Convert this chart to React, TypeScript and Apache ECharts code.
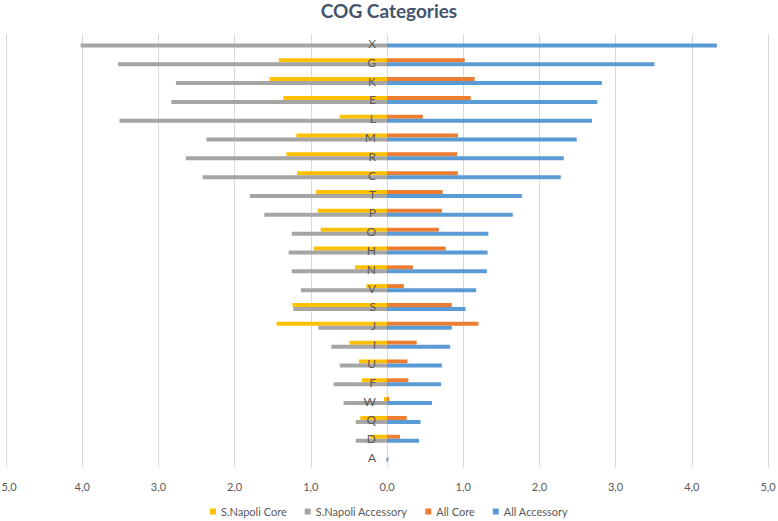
import React, { useEffect, useRef } from "react";
import * as echarts from "echarts";

const categories = ["X", "G", "K", "E", "L", "M", "R", "C", "T", "P", "O", "H", "N", "V", "S", "J", "I", "U", "F", "W", "Q", "D", "A"];
// S.Napoli values (drawn on the left side)
const napoliCore = [0, 1.42, 1.54, 1.36, 0.62, 1.19, 1.32, 1.18, 0.93, 0.91, 0.87, 0.96, 0.42, 0.27, 1.24, 1.45, 0.49, 0.37, 0.33, 0.04, 0.35, 0.22, 0];
const napoliAccessory = [4.02, 3.53, 2.77, 2.83, 3.51, 2.37, 2.64, 2.42, 1.8, 1.61, 1.25, 1.29, 1.25, 1.13, 1.23, 0.9, 0.73, 0.62, 0.7, 0.57, 0.41, 0.41, 0.01];
// All values (drawn on the right side)
const allCore = [0, 1.02, 1.15, 1.1, 0.47, 0.93, 0.92, 0.93, 0.73, 0.72, 0.68, 0.77, 0.34, 0.22, 0.85, 1.2, 0.39, 0.27, 0.28, 0.03, 0.26, 0.17, 0];
const allAccessory = [4.33, 3.51, 2.82, 2.76, 2.69, 2.49, 2.32, 2.28, 1.77, 1.65, 1.33, 1.32, 1.31, 1.17, 1.03, 0.85, 0.83, 0.72, 0.71, 0.59, 0.44, 0.42, 0.02];

const seriesNames = ["S.Napoli Core", "S.Napoli Accessory", "All Core", "All Accessory"];
const colors = ["#FFC000", "#A5A5A5", "#ED7D31", "#5B9BD5"];

const FONT = "Lato, 'Open Sans', sans-serif";

export default function App() {
  const ref = useRef<HTMLDivElement>(null);
  useEffect(() => {
    if (!ref.current) return;
    const chart = echarts.init(ref.current, null, { renderer: "svg" });
    const neg = (a: number[]) => a.map((v) => -v);
    const mk = (i: number, data: number[], stack: string) => ({
      name: seriesNames[i],
      type: "bar",
      stack,
      data,
      barWidth: 4,
      barGap: "0%",
      itemStyle: { color: colors[i] },
    });
    chart.setOption({
      animation: false,
      backgroundColor: "#ffffff",
      title: {
        text: "COG Categories",
        left: "center",
        top: -4,
        textStyle: { fontFamily: FONT, fontSize: 19, fontWeight: "bold", color: "#44546A" },
      },
      legend: {
        bottom: -1,
        left: "center",
        icon: "rect",
        itemWidth: 6,
        itemHeight: 6,
        itemGap: 18,
        textStyle: { fontFamily: FONT, fontSize: 11, color: "#595959" },
        data: seriesNames,
      },
      grid: { left: 6, right: 10, top: 34, bottom: 54, containLabel: false, outerBoundsMode: "none" },
      xAxis: {
        type: "value",
        min: -5,
        max: 5,
        interval: 1,
        axisLine: { show: false },
        axisTick: { show: false },
        splitLine: { lineStyle: { color: "#D9D9D9", width: 1 } },
        axisLabel: {
          margin: 14,
          fontFamily: FONT,
          fontSize: 11,
          color: "#595959",
          formatter: (v: number) => {
            const s = Math.abs(v).toFixed(1).replace(".", ",");
            return v === -5 ? "{m|" + s + "}" : s;
          },
          rich: {
            m: { fontFamily: FONT, fontSize: 11, color: "#595959", padding: [0, 0, 0, 6] },
          },
        },
      },
      yAxis: {
        type: "category",
        data: categories,
        inverse: true,
        z: 10,
        position: "left",
        offset: -381,
        axisLine: { show: false, onZero: false },
        axisTick: { show: false },
        axisLabel: {
          margin: 11,
          fontFamily: FONT,
          fontSize: 12,
          color: "#595959",
          padding: [8, 0, 0, 0],
        },
      },
      series: [
        mk(0, neg(napoliCore), "core"),
        mk(1, neg(napoliAccessory), "acc"),
        mk(2, allCore, "core"),
        mk(3, allAccessory, "acc"),
      ],
    });
    return () => chart.dispose();
  }, []);
  return <div ref={ref} style={{ width: 778, height: 521, position: "absolute", left: 0, top: 0 }} />;
}
